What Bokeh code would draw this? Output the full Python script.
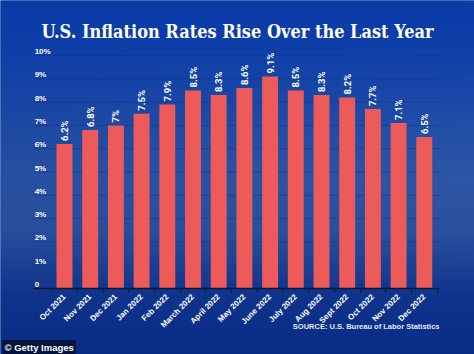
import math
import numpy as np
from bokeh.plotting import figure
from bokeh.models import Range1d, FixedTicker, Label, ColumnDataSource
from bokeh.core.properties import value
from bokeh.embed import file_html
from bokeh.resources import INLINE

months = ["Oct 2021", "Nov 2021", "Dec 2021", "Jan 2022", "Feb 2022", "March 2022",
          "April 2022", "May 2022", "June 2022", "July 2022", "Aug 2022", "Sept 2022",
          "Oct 2022", "Nov 2022", "Dec 2022"]
rates = [6.2, 6.8, 7.0, 7.5, 7.9, 8.5, 8.3, 8.6, 9.1, 8.5, 8.3, 8.2, 7.7, 7.1, 6.5]
y_ticks = [0, 1, 2, 3, 4, 5, 6, 7, 8, 9, 10]
y_tick_labels = ["0", "1%", "2%", "3%", "4%", "5%", "6%", "7%", "8%", "9%", "10%"]

BAR = "#ec5a5a"
W, H = 474, 354

# pixel layout of the chart area
PX_X, X0_PX = 25.7, 64.0      # px per category, centre of first bar
PX_Y, Y0_PX = 23.3, 288.0     # px per percent, baseline
xr = Range1d(-X0_PX / PX_X, (W - X0_PX) / PX_X)
yr = Range1d(-(H - Y0_PX) / PX_Y, Y0_PX / PX_Y)
X_LO, X_HI = -1.2, 14.6       # visible axis extent

p = figure(width=W, height=H, output_backend="svg", toolbar_location=None, title=None,
           x_range=xr, y_range=yr, min_border=0,
           min_border_left=0, min_border_right=0, min_border_top=0, min_border_bottom=0)
p.outline_line_color = None
p.border_fill_color = None
p.background_fill_color = "#17439c"

# background gradient (decoration)
rows, cols = 177, 60
stops_t = [0.0, 0.15, 0.5, 0.65, 0.82, 1.0]
stops_c = np.array([[10, 58, 166], [14, 62, 168], [40, 80, 160], [38, 78, 156],
                    [16, 52, 140], [8, 44, 134]], dtype=float)
t = 1.0 - (np.arange(rows) + 0.5) / rows  # row 0 is the bottom
rgb = np.stack([np.interp(t, stops_t, stops_c[:, k]) for k in range(3)], axis=1)
hx = (np.arange(cols) + 0.5) / cols
img = np.zeros((rows, cols), dtype=np.uint32)
view = img.view(dtype=np.uint8).reshape((rows, cols, 4))
for k in range(3):
    view[:, :, k] = np.clip(rgb[:, k][:, None] + 6 * hx[None, :] * np.exp(-((t[:, None] - 0.45) / 0.25) ** 2), 0, 255).astype(np.uint8)
view[:, :, 3] = 255
mx, my = 0.2, 0.2
p.image_rgba(image=[img], x=xr.start - mx, y=yr.start - my,
             dw=xr.end - xr.start + 2 * mx, dh=yr.end - yr.start + 2 * my)

# gridlines
gsrc = ColumnDataSource(dict(y=y_ticks, x0=[X_LO] * len(y_ticks), x1=[X_HI] * len(y_ticks)))
p.segment(x0="x0", x1="x1", y0="y", y1="y", source=gsrc, line_color="#0f3589",
          line_alpha=0.55, line_width=1)

xs = list(range(len(months)))
src = ColumnDataSource(dict(x=xs, top=rates, lab=[f"{v:g}%" for v in rates]))
p.vbar(x="x", top="top", width=0.62, bottom=0, source=src, fill_color=BAR, line_color=None)
p.text(x="x", y="top", text="lab", source=src, angle=math.pi / 2,
       text_align="left", text_baseline="middle", y_offset=-3,
       text_color="white", text_font=value("Roboto"), text_font_size="9.5px",
       text_font_style="bold")

ysrc = ColumnDataSource(dict(x=[X_LO] * len(y_ticks), y=y_ticks, t=y_tick_labels))
p.text(x="x", y="y", text="t", source=ysrc, text_align="left", text_baseline="middle",
       x_offset=1, y_offset=-4, text_color="white", text_font=value("Liberation Sans"),
       text_font_size="8px", text_font_style="bold")

p.yaxis.visible = False
p.xgrid.visible = False
p.ygrid.visible = False

ax = p.xaxis[0]
ax.fixed_location = 0
ax.bounds = (X_LO, X_HI)
ax.ticker = FixedTicker(ticks=xs, minor_ticks=[i + 0.5 for i in range(-1, len(months))])
ax.major_label_overrides = {i: m for i, m in enumerate(months)}
ax.major_label_orientation = math.pi / 4
ax.major_tick_out = 0
ax.major_tick_in = 0
ax.minor_tick_out = 4
ax.minor_tick_in = 0
ax.minor_tick_line_color = "#0a1838"
ax.axis_line_color = "#0a1838"
ax.axis_line_width = 1.5
ax.major_label_text_color = "white"
ax.major_label_text_font = "Liberation Sans"
ax.major_label_text_font_style = "bold"
ax.major_label_text_font_size = "8px"
ax.major_label_standoff = 3

p.add_layout(Label(x=237, y=H - 31, x_units="screen", y_units="screen",
                   text="U.S. Inflation Rates Rise Over the Last Year",
                   text_align="center", text_baseline="middle", text_color="white",
                   text_font="DejaVu Serif Condensed", text_font_style="bold",
                   text_font_size="18px"))
p.add_layout(Label(x=439, y=H - 326, x_units="screen", y_units="screen",
                   text="SOURCE: U.S. Bureau of Labor Statistics",
                   text_align="right", text_baseline="middle", text_color="#e6e9f2",
                   text_font="Liberation Sans", text_font_style="bold",
                   text_font_size="7.5px"))
p.add_layout(Label(x=2, y=7, x_units="screen", y_units="screen",
                   text="© Getty Images", text_align="left", text_baseline="middle",
                   text_color="white", text_font="Liberation Sans", text_font_style="bold",
                   text_font_size="9.5px", background_fill_color="black",
                   background_fill_alpha=0.55, padding=2))

open("out.html", "w").write(file_html(p, INLINE))
